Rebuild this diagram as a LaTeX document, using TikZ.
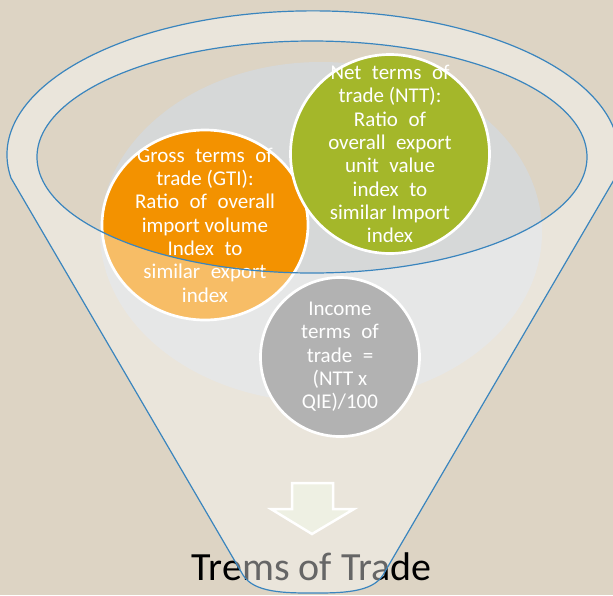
\documentclass[tikz,border=0pt]{standalone}
\usepackage{fontspec}
\setmainfont{Carlito}
\usetikzlibrary{shapes.geometric}
\definecolor{bg}{HTML}{DDD4C4}
\definecolor{greyell}{HTML}{D6D8D8}
\definecolor{orng}{HTML}{F39200}
\definecolor{grn}{HTML}{A4B72A}
\definecolor{incg}{HTML}{7F7F7F}
\definecolor{fblue}{HTML}{3A85BE}
\definecolor{arrowfill}{HTML}{EEF0E3}
\newcommand\wsp{\hspace{0.5em}}
\tikzset{
  bubble/.style={ellipse, draw=white, line width=2.7pt, inner sep=0pt},
  bubbletext/.style={align=center, text=white, inner sep=0pt,
    font=\fontsize{21}{23.3}\selectfont},
  funnelline/.style={draw=fblue, line width=1.2pt},
}
\begin{document}
\begin{tikzpicture}[x=1pt,y=1pt]
\fill[bg] (0,0) rectangle (613,-595);
\useasboundingbox (0,0) rectangle (613,-595);
% background grey ellipse
\fill[greyell] (321,-232) ellipse [x radius=221, y radius=170];
% circles
\node[bubble, fill=orng, minimum width=206pt, minimum height=190pt] (gti) at (205,-225) {};
\node[bubble, fill=grn, minimum width=199pt, minimum height=199pt] (ntt) at (390,-154) {};
\node[bubble, fill=incg, minimum width=159pt, minimum height=159pt] (inc) at (340,-357) {};
\node[bubbletext] (gtitext) at (gti.center) {Gross\wsp terms\wsp of\\trade (GTI):\\Ratio\wsp of\wsp overall\\import volume\\Index\wsp to\\similar\wsp export\\index};
\node[bubbletext] (ntttext) at (ntt.center) {Net\wsp terms\wsp of\\trade (NTT):\\Ratio\wsp of\\overall\wsp export\\unit\wsp value\\index\wsp to\\similar Import\\index};
\node[bubbletext] (inctext) at (inc.center) {Income\\terms\wsp of\\trade\wsp =\\(NTT x\\QIE)/100};
% title
\node[anchor=base, inner sep=0pt, font=\fontsize{40}{42}\selectfont, text=black] (title) at (311.5,-580) {Trems of Trade};
% funnel overlay
\def\funnelpath{(11,-178) arc[start angle=189.25, end angle=-9.25, x radius=306, y radius=144] -- (383,-575) .. controls (372,-593) and (340,-593) .. (313,-593) .. controls (286,-593) and (254,-593) .. (243,-575) -- cycle}
\fill[white, fill opacity=0.4, even odd rule] \funnelpath (312,-157) ellipse [x radius=275, y radius=116];
\draw[funnelline] \funnelpath;
\draw[funnelline] (312,-157) ellipse [x radius=275, y radius=116];
% arrow
\draw[white, line width=2.5pt, fill=arrowfill, line join=miter] (292,-483) -- (333,-483) -- (333,-509) -- (354,-509) -- (312,-534) -- (271,-509) -- (292,-509) -- cycle;
\end{tikzpicture}
\end{document}
